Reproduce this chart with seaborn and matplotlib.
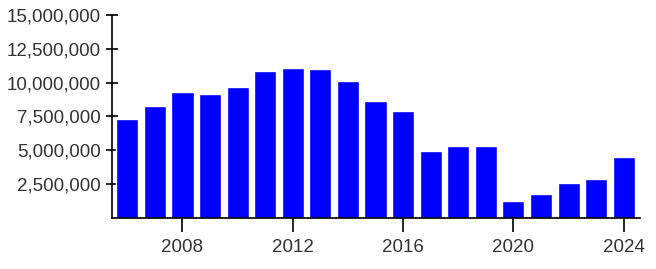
import matplotlib
matplotlib.use("Agg")
import matplotlib.pyplot as plt
import seaborn as sns
import pandas as pd
from matplotlib.ticker import FuncFormatter

years = [2006, 2007, 2008, 2009, 2010, 2011, 2012, 2013, 2014, 2015,
         2016, 2017, 2018, 2019, 2020, 2021, 2022, 2023, 2024]
values = [7350000, 8310000, 9340000, 9190000, 9700000, 10880000, 11100000,
          11030000, 10150000, 8680000, 7940000, 4930000, 5290000, 5290000,
          1250000, 1760000, 2570000, 2870000, 4490000]
x_ticks = [2008, 2012, 2016, 2020, 2024]
y_ticks = [2500000, 5000000, 7500000, 10000000, 12500000, 15000000]

sns.set_style("ticks")
plt.rcParams['font.family'] = ['Liberation Sans', 'DejaVu Sans']

df = pd.DataFrame({"year": years, "value": values})

fig = plt.figure(figsize=(6.56, 2.69), dpi=100)
ax = fig.add_axes([0.171, 0.19, 0.805, 0.754])
sns.barplot(data=df, x="year", y="value", native_scale=True, color="#0000ff",
            saturation=1, width=0.8, edgecolor="white", linewidth=1, ax=ax)

ax.set_xlim(2005.45, 2024.6)
ax.set_ylim(0, 15000000)
ax.set_xticks(x_ticks)
ax.set_xticklabels([str(t) for t in x_ticks])
ax.set_yticks(y_ticks)
ax.yaxis.set_major_formatter(FuncFormatter(lambda v, p: f"{int(v):,}"))
ax.set_xlabel("")
ax.set_ylabel("")
sns.despine(ax=ax)
for s in ("left", "bottom"):
    ax.spines[s].set_color("black")
    ax.spines[s].set_linewidth(1.2)
ax.tick_params(axis="x", direction="out", length=10, width=1.2, color="black",
               labelsize=13.5, labelcolor="#333333", pad=5)
ax.tick_params(axis="y", direction="inout", length=8, width=1.2, color="black",
               labelsize=13.5, labelcolor="#333333", pad=4)

fig.savefig("out.png", dpi=100)
